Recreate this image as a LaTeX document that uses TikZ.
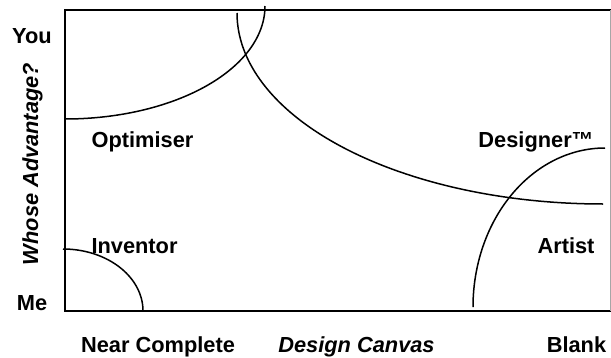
\documentclass[tikz,border=0pt]{standalone}
\usepackage{fontspec}
\setmainfont{Liberation Sans}
\begin{document}
\begin{tikzpicture}[x=1pt,y=-1pt,
  lbl/.style={font=\fontsize{21.8}{26}\selectfont\bfseries, anchor=base, inner sep=0pt},
  axislbl/.style={lbl, font=\fontsize{21.8}{26}\selectfont\bfseries\itshape},
  frame/.style={line width=1.8pt},
  zone/.style={line width=1.5pt}]
\useasboundingbox (0,0) rectangle (611,357);

% plot area frame; its right side sits on the page edge
\draw[frame] (65,10) -- (611,10);
\draw[frame] (65,311) -- (611,311);
\draw[frame] (65,9.1) -- (65,311.9);
\draw[line width=0.8pt, black!35] (610.6,10) -- (610.6,311);

% zone boundaries, quarter ellipses
\draw[zone] plot[domain=0:90,samples=90] ({65+200*cos(\x)},{6+113*sin(\x)});
\draw[zone] plot[domain=0:90,samples=120] ({603-366*cos(\x)},{13+191*sin(\x)});
\draw[zone] plot[domain=0:90,samples=90] ({605-132*cos(\x)},{307-159*sin(\x)});
\draw[zone] plot[domain=0:90,samples=60] ({63+80*cos(\x)},{311-62*sin(\x)});

% zone names
\node[lbl] (optimiser) at (142.5,147) {Optimiser};
\node[lbl] (designer) at (536,147) {Designer™};
\node[lbl] (inventor) at (134.5,253) {Inventor};
\node[lbl] (artist) at (566,253) {Artist};

% vertical axis
\node[lbl] (you) at (32,43) {You};
\node[lbl] (me) at (32,310) {Me};
\node[axislbl, rotate=90] (whose) at (38,164) {Whose Advantage?};

% horizontal axis
\node[lbl] (near) at (158,352) {Near Complete};
\node[axislbl] (canvas) at (356.5,352) {Design Canvas};
\node[lbl] (blank) at (576.5,352) {Blank};
\end{tikzpicture}
\end{document}
